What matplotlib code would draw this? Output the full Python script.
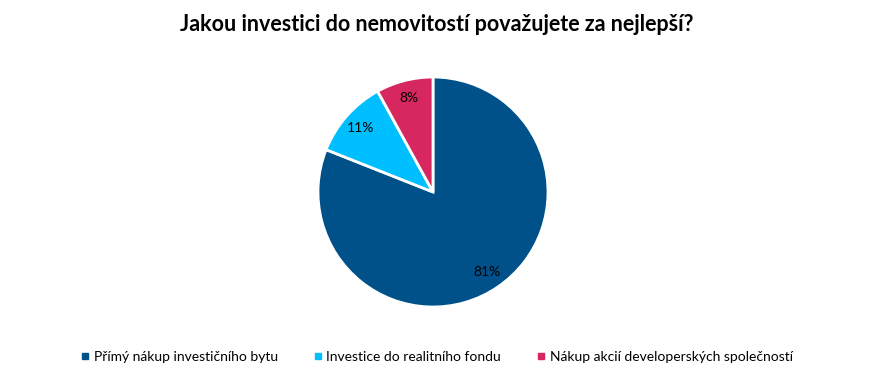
import matplotlib
matplotlib.use("Agg")
import matplotlib.pyplot as plt
from matplotlib.lines import Line2D

# data
kategorie = ["Přímý nákup investičního bytu",
             "Investice do realitního fondu",
             "Nákup akcií developerských společností"]
podily = [81, 11, 8]
barvy = ["#00518A", "#00BFFF", "#D6285F"]

plt.rcParams["font.family"] = ["Lato", "DejaVu Sans"]

fig = plt.figure(figsize=(8.74, 3.78), dpi=100)
fig.patch.set_facecolor("white")

# pie axes: center ~ (433,192) px, radius ~115 px
ax = fig.add_axes([318 / 874, 71 / 378, 230 / 874, 230 / 378])
wedges, texts, autotexts = ax.pie(
    podily,
    colors=barvy,
    startangle=90,
    counterclock=False,
    autopct="%1.0f%%",
    pctdistance=0.84,
    wedgeprops={"edgecolor": "white", "linewidth": 2},
    textprops={"fontsize": 10, "color": "black"},
)
ax.set_xlim(-1.0, 1.0)
ax.set_ylim(-1.0, 1.0)

fig.text(0.5, 0.935, "Jakou investici do nemovitostí považujete za nejlepší?",
         ha="center", va="center", fontsize=15.5, fontweight="bold")

handles = [Line2D([], [], marker="s", linestyle="none", markersize=5,
                  markerfacecolor=c, markeredgecolor=c) for c in barvy]
fig.legend(handles, kategorie, loc="center", bbox_to_anchor=(0.5, 0.055),
           ncol=3, frameon=False, fontsize=10, handlelength=0.6,
           handletextpad=0.3, columnspacing=2.6)

fig.savefig("out.png", dpi=100, facecolor="white")
